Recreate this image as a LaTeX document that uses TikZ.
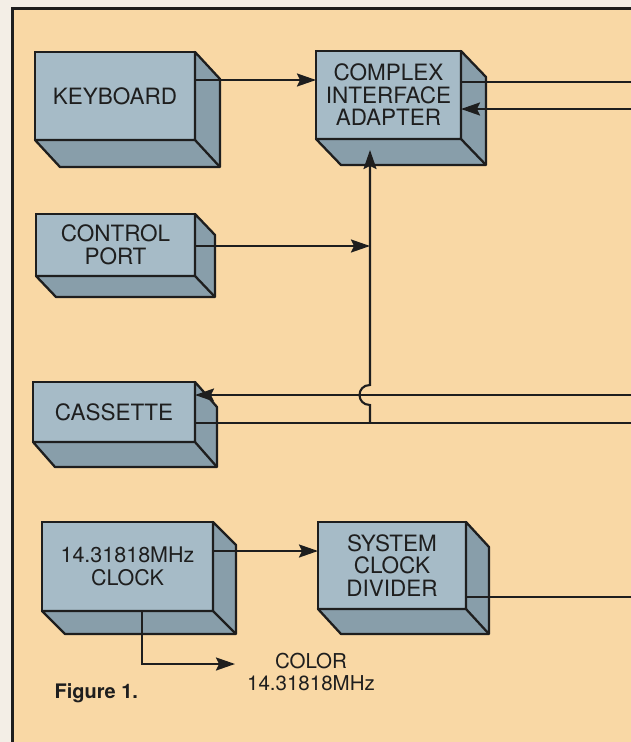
\documentclass[tikz,border=0pt]{standalone}
\usepackage{fontspec}
\setmainfont{TeX Gyre Heros}
\usetikzlibrary{arrows.meta}
\definecolor{paper}{HTML}{F9D8A5}
\definecolor{outside}{HTML}{F3EEE6}
\definecolor{boxfront}{HTML}{A6BBC7}
\definecolor{boxside}{HTML}{889EAA}
\definecolor{ink}{HTML}{1E1E1E}
\newcommand\sidefaces[3]{%
  \filldraw[sideface] (#1.north east) -- ++(#2,#3) -- ([shift={(#2,#3)}]#1.south east) -- ([shift={(#2,#3)}]#1.south west) -- (#1.south west) -- (#1.south east) -- cycle;
  \draw[sideface] (#1.south east) -- ++(#2,#3);
}
\begin{document}
\begin{tikzpicture}[x=1pt,y=-1pt,
  sideface/.style={fill=boxside, draw=ink, line width=2.3pt, line join=round},
  block/.style={draw=ink, fill=boxfront, line width=2.3pt, inner sep=0pt, outer sep=0pt, align=center, text=ink, font=\fontsize{22.5}{22.5}\selectfont},
  conn/.style={draw=ink, line width=2.1pt},
  arr/.style={conn, -{Stealth[length=19pt,width=13pt,inset=3pt]}},
  lbl/.style={text=ink, align=center, font=\fontsize{20.5}{22}\selectfont}]
\useasboundingbox (0,0) rectangle (631,742);
\fill[outside] (0,0) rectangle (631,742);
\fill[paper] (12,8) rectangle (631,742);
\draw[ink, line width=3pt] (12,742) -- (12,8) -- (631,8);

% blocks
\node[block, minimum width=160pt, minimum height=88pt] (kb) at (115,96) {KEYBOARD};
\sidefaces{kb}{25}{27}
\node[block, minimum width=145pt, minimum height=88pt] (cia) at (388.5,95) {COMPLEX\\INTERFACE\\ADAPTER};
\sidefaces{cia}{25}{26}
\node[block, minimum width=159pt, minimum height=62pt] (cp) at (115.5,245) {CONTROL\\PORT};
\sidefaces{cp}{20}{21}
\node[block, minimum width=162pt, minimum height=60pt] (cas) at (114,412) {CASSETTE};
\sidefaces{cas}{22}{25}
\node[block, minimum width=171pt, minimum height=89pt, font=\fontsize{21.5}{22.5}\selectfont] (clk) at (127.5,566.5) {14.31818MHz\\CLOCK};
\sidefaces{clk}{23}{23}
\node[block, minimum width=148pt, minimum height=87pt] (scd) at (392,565.5) {SYSTEM\\CLOCK\\DIVIDER};
\sidefaces{scd}{23}{25}

% free ends
\coordinate (r1) at (631,82);
\coordinate (r2) at (631,109);
\coordinate (r3) at (631,395);
\coordinate (r4) at (631,423);
\coordinate (r5) at (631,597);
\coordinate (j1) at (370,246);
\coordinate (ciain) at (370,150);
\coordinate (colortip) at (235,664);

% connectors
\draw[arr] ([yshift=16pt]kb.east) -- ([yshift=15pt]cia.west);
\draw[conn] (cia.east |- r1) -- (r1);
\draw[arr] (r2) -- (cia.east |- r2);
\draw[arr] (cp.east |- j1) -- (j1);
\draw[arr] (r3) -- (cas.east |- r3);
\draw[conn] (cas.east |- r4) -- (r4);
\draw[arr] (370,423) -- (370,405) .. controls (356,405) and (356,385) .. (370,385) -- (ciain);
\draw[arr] ([yshift=15.5pt]clk.east) -- ([yshift=14.5pt]scd.west);
\draw[conn] (scd.east |- r5) -- (r5);
\draw[arr] ([xshift=14.5pt]clk.south) |- (colortip);

% labels
\node[lbl] (color) at (311,672) {COLOR\\14.31818MHz};
\node[anchor=west, text=ink, font=\bfseries\fontsize{20}{20}\selectfont] (fig) at (51,693) {Figure 1.};
\end{tikzpicture}
\end{document}
